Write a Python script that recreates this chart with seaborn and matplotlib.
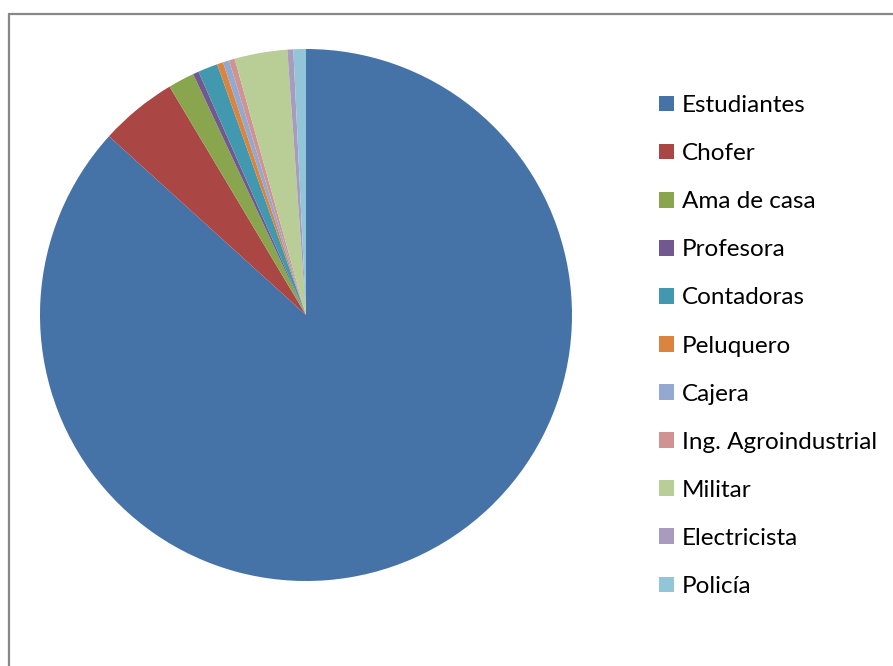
import matplotlib
matplotlib.use("Agg")
import matplotlib.pyplot as plt
import seaborn as sns
from matplotlib.lines import Line2D

# datos (porcentaje aproximado por ocupacion)
ocupaciones = ["Estudiantes", "Chofer", "Ama de casa", "Profesora", "Contadoras",
               "Peluquero", "Cajera", "Ing. Agroindustrial", "Militar",
               "Electricista", "Policía"]
porcentajes = [86.7, 4.7, 1.6, 0.35, 1.2, 0.37, 0.38, 0.35, 3.2, 0.36, 0.76]
colores = ["#4572A7", "#AA4643", "#89A54E", "#71588F", "#4198AF", "#DB843D",
           "#93A9CF", "#D19392", "#B9CD96", "#A99BBD", "#92C5D7"]

sns.set_theme(style="white")
plt.rcParams["font.family"] = ["Lato", "DejaVu Sans"]
plt.rcParams["text.color"] = "black"

W, H = 893, 666
fig = plt.figure(figsize=(W / 100, H / 100), dpi=100)

# marco gris del area del grafico
fig.add_artist(Line2D([9 / W, 9 / W], [0, 1 - 14 / H], transform=fig.transFigure,
                      color="#888888", lw=1.6))
fig.add_artist(Line2D([9 / W, 1], [1 - 14 / H, 1 - 14 / H], transform=fig.transFigure,
                      color="#888888", lw=1.6))

cx, cy, r = 306, 315, 266
ax = fig.add_axes([(cx - r) / W, 1 - (cy + r) / H, 2 * r / W, 2 * r / H])
wedges, _ = ax.pie(porcentajes, colors=colores, startangle=90, counterclock=False,
                   wedgeprops=dict(linewidth=0))
ax.set_xlim(-1, 1)
ax.set_ylim(-1, 1)
ax.set_aspect("equal")
ax.axis("off")

fig.legend(wedges, ocupaciones, loc="upper left",
           bbox_to_anchor=(659 / W, 1 - 95 / H), frameon=False,
           fontsize=17.5, handlelength=0.62, handleheight=0.62,
           handletextpad=0.32, labelspacing=1.115, borderpad=0, borderaxespad=0,
           labelcolor="black")

fig.savefig("out.png", dpi=100)
